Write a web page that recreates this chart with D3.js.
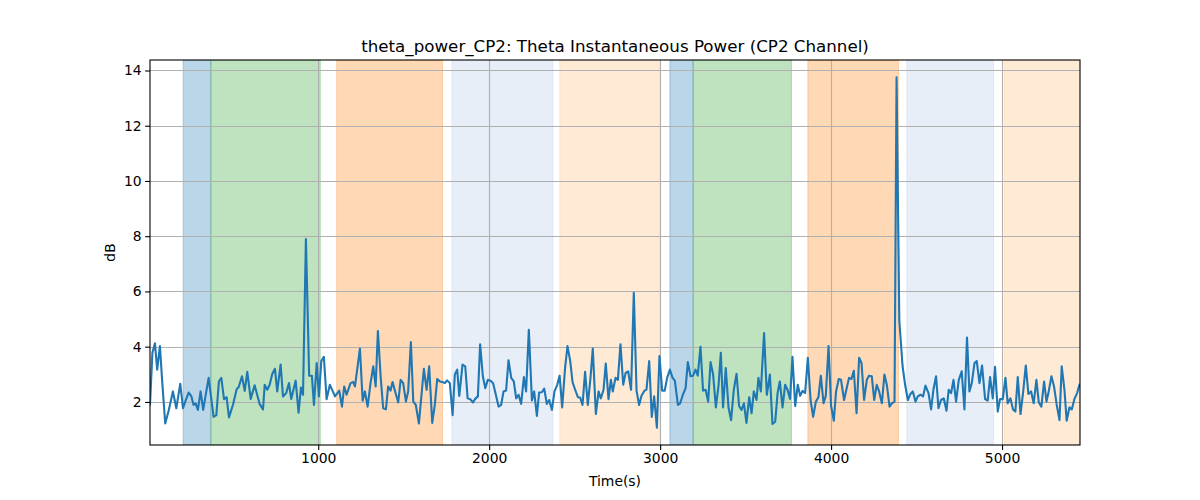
<!DOCTYPE html>
<html>
<head>
<meta charset="utf-8">
<script src="https://cdn.jsdelivr.net/npm/d3@7"></script>
<style>
  html, body { margin: 0; padding: 0; background: #fff; }
  svg { display: block; font-family: "DejaVu Sans", sans-serif; }
</style>
</head>
<body>
<svg id="chart" width="1200" height="500"></svg>
<script>
const chartTitle = "theta_power_CP2: Theta Instantaneous Power (CP2 Channel)";
const xLabel = "Time(s)";
const yLabel = "dB";
const xTicks = [1000, 2000, 3000, 4000, 5000];
const yTicks = [2, 4, 6, 8, 10, 12, 14];
const xDomain = [16, 5456];
const yDomain = [0.44, 14.38];

// shaded intervals (start, end, colour)
const spanStarts = [210, 372, 1108, 1782, 2413, 3057, 3193, 3864, 4443, 5014];
const spanEnds   = [372, 1012, 1727, 2373, 2996, 3193, 3768, 4394, 4951, 5456];
const spanColors = ["#1f77b4", "#2ca02c", "#ff7f0e", "#aec7e8", "#ffbb78",
                    "#1f77b4", "#2ca02c", "#ff7f0e", "#aec7e8", "#ffbb78"];

const times = [
16,30,45,58,74,88,105,125,150,170,193,209,222,242,257,271,283,296,312,327,359,388,404,419,433,449,464,478,501,523,535,554,570,585,605,628,657,677,687,702,716,731,747,760,780,794,813,829,842,868,885,899,911,928,
947,963,975,991,1004,1018,1033,1049,1068,1084,1098,1123,1139,1152,1166,1189,1205,1215,1244,1260,1273,1289,1306,1322,1336,1349,1365,1380,1396,1409,1423,1435,1450,1468,1482,1497,1513,1526,1542,1556,1571,1589,1618,1634,1649,1667,1682,1696,1712,1727,1741,1754,1770,1786,1799,1813,
1825,1844,1860,1874,1889,1905,1918,1934,1947,1963,1977,1992,2008,2023,2039,2055,2070,2084,2099,2113,2129,2144,2158,2172,2187,2203,2216,2232,2250,2263,2279,2292,2308,2322,2337,2351,2367,2382,2398,2412,2427,2444,2458,2474,2488,2503,2519,2532,2546,2561,2577,2593,2606,2624,2640,2653,2669,2682,2698,2712,
2723,2739,2753,2768,2784,2798,2813,2830,2846,2862,2877,2891,2909,2920,2936,2951,2965,2981,2996,3012,3027,3041,3057,3073,3086,3104,3117,3133,3149,3162,3178,3193,3207,3220,3236,3251,3266,3281,3295,3310,3326,3342,3355,3368,3384,3400,3415,3431,3447,3462,3476,3490,3505,3521,3535,3548,3564,
3575,3589,3608,3624,3642,3657,3673,3687,3700,3716,3731,3745,3760,3774,3790,3805,3819,3833,3848,3864,3880,3895,3911,3926,3940,3956,3969,3985,4000,4016,4029,4045,4058,4076,4090,4105,4119,4133,4149,4164,4178,4193,4209,4222,4238,4252,4267,4281,4297,4312,4326,4342,4355,4371,4383,4399,4418,4433,4449,
4464,4478,4494,4507,4523,4538,4552,4570,4585,4599,4614,4628,4643,4659,4675,4688,4702,4716,4731,4747,4764,4780,4795,4809,4823,4839,4852,4868,4883,4901,4916,4930,4946,4959,4975,4988,5004,5020,5033,5049,5064,5078,5092,5108,5123,5139,5154,5170,5185,5201,5215,5230,5246,5260,5273,5289,5304,5320,5336,5349,5365,5378,5394,5408,5423,5439,5453
];

const power = [
1.9,3.78,4.12,3.17,4.02,2.68,1.22,1.68,2.38,1.77,2.66,1.77,2.01,2.34,2.22,1.89,1.95,1.71,2.38,1.71,2.87,1.46,1.52,2.74,2.87,2.10,2.17,1.44,1.89,2.46,2.54,2.93,2.40,3.09,2.11,2.60,1.93,1.73,2.62,2.44,2.62,3.01,3.20,2.38,3.35,2.20,2.32,2.68,2.11,2.77,1.61,2.52,2.26,7.9,
2.95,2.95,1.89,3.41,2.20,3.48,3.63,2.10,2.62,2.40,2.20,2.41,1.83,2.56,2.26,2.68,2.72,2.56,3.93,2.04,2.38,1.83,2.68,3.29,2.56,4.57,2.93,1.77,1.73,2.56,2.41,2.72,2.38,1.98,2.80,2.68,2.01,2.38,4.17,2.01,1.89,1.22,3.20,2.44,3.29,1.24,1.89,2.83,2.74,2.72,2.68,2.78,2.68,1.52,2.99,3.17,
2.22,3.35,3.29,2.13,2.10,1.98,2.11,2.20,4.09,2.93,2.50,2.80,2.77,2.68,2.26,1.83,1.89,2.38,2.41,3.51,2.87,2.74,2.13,2.26,1.93,2.90,2.38,4.61,2.05,2.38,1.49,2.34,2.35,2.48,1.93,2.07,1.71,2.38,2.62,2.95,1.80,3.23,4.02,3.48,2.71,2.44,2.17,2.16,1.89,3.09,1.89,2.90,3.93,1.56,2.38,2.13,2.44,3.39,2.10,2.80,
2.38,2.87,2.80,4.09,2.62,3.05,3.11,2.44,5.95,2.41,1.89,2.22,2.41,2.44,3.48,1.46,2.20,1.07,3.66,2.41,2.41,2.87,3.17,2.87,2.77,1.89,1.95,2.26,2.50,3.44,2.93,2.95,3.17,2.95,4.00,2.41,2.44,2.01,3.44,2.99,1.80,2.62,3.78,1.80,3.23,1.80,1.34,2.44,3.02,1.85,1.71,1.95,1.24,2.17,1.59,2.38,2.07,
2.87,2.38,4.49,2.26,2.99,1.20,1.28,2.32,2.74,1.80,2.62,2.44,2.11,3.63,1.85,2.62,2.22,2.40,2.32,3.60,2.07,1.46,2.01,2.17,2.95,1.95,2.22,4.02,1.85,1.32,2.38,2.83,2.80,2.07,2.46,2.87,2.83,3.13,1.59,3.60,3.41,2.07,2.80,2.95,2.93,2.07,2.62,2.38,1.95,2.99,2.62,1.83,1.95,2.01,13.75,4.95,3.30,2.62,2.07,
2.29,2.38,2.01,2.20,2.26,2.20,2.59,2.32,1.73,2.46,2.93,1.77,2.07,2.13,1.68,2.44,2.32,2.80,2.01,2.80,3.11,1.73,4.33,2.38,2.68,3.41,3.48,2.68,3.32,2.10,2.05,2.90,2.13,3.27,1.65,2.10,2.10,2.87,1.95,2.13,1.73,1.65,2.90,1.56,2.34,3.32,2.29,2.38,1.95,2.80,1.98,1.83,2.74,2.01,2.38,2.93,2.56,1.89,1.34,3.29,2.44,1.32,1.80,1.73,2.10,2.32,2.62
];

const margin = { left: 150, top: 60, right: 120, bottom: 55 };
const W = 1200, H = 500;
const iw = W - margin.left - margin.right;   // 930
const ih = H - margin.top - margin.bottom;   // 385

const svg = d3.select("#chart");
const g = svg.append("g").attr("transform", `translate(${margin.left},${margin.top})`);

const x = d3.scaleLinear().domain(xDomain).range([0, iw]);
const y = d3.scaleLinear().domain(yDomain).range([ih, 0]);

g.append("defs").append("clipPath").attr("id", "clip")
  .append("rect").attr("width", iw).attr("height", ih);

// spans
const spans = spanStarts.map((s, i) => ({ s, e: spanEnds[i], c: spanColors[i] }));
g.append("g").attr("clip-path", "url(#clip)")
  .selectAll("rect").data(spans).join("rect")
  .attr("x", d => x(d.s))
  .attr("width", d => x(d.e) - x(d.s))
  .attr("y", 0).attr("height", ih)
  .attr("fill", d => d.c).attr("fill-opacity", 0.3)
  .attr("stroke", d => d.c).attr("stroke-opacity", 0.3).attr("stroke-width", 1);

// grid
const grid = g.append("g");
grid.selectAll(".gx").data(xTicks).join("line")
  .attr("x1", d => Math.round(x(d)) + 0.5).attr("x2", d => Math.round(x(d)) + 0.5)
  .attr("y1", 0).attr("y2", ih)
  .attr("stroke", "#b0b0b0").attr("stroke-width", 1.1);
grid.selectAll(".gy").data(yTicks).join("line")
  .attr("y1", d => Math.round(y(d)) + 0.5).attr("y2", d => Math.round(y(d)) + 0.5)
  .attr("x1", 0).attr("x2", iw)
  .attr("stroke", "#b0b0b0").attr("stroke-width", 1.1);

// line
const pts = times.map((t, i) => [t, power[i]]);
g.append("path").datum(pts)
  .attr("clip-path", "url(#clip)")
  .attr("fill", "none").attr("stroke", "#1f77b4").attr("stroke-width", 2.1)
  .attr("stroke-linejoin", "round").attr("stroke-linecap", "square")
  .attr("d", d3.line().x(d => x(d[0])).y(d => y(d[1])));

// axes
const xAxis = d3.axisBottom(x).tickValues(xTicks).tickSize(4.9).tickPadding(3.5).tickFormat(d3.format("d"));
const yAxis = d3.axisLeft(y).tickValues(yTicks).tickSize(4.9).tickPadding(3.5).tickFormat(d3.format("d"));
const gx = g.append("g").attr("transform", `translate(0,${ih})`).call(xAxis);
const gy = g.append("g").call(yAxis);
[gx, gy].forEach(a => {
  a.select(".domain").remove();
  a.selectAll("line").attr("stroke", "#000").attr("stroke-width", 1.1);
  a.selectAll("text").attr("fill", "#000").style("font-size", "13.9px")
    .style("font-family", "DejaVu Sans, sans-serif");
});

// frame
g.append("rect").attr("x", 0).attr("y", 0).attr("width", iw).attr("height", ih)
  .attr("fill", "none").attr("stroke", "#000").attr("stroke-width", 1.1);

// labels
svg.append("text").attr("x", margin.left + iw / 2).attr("y", 52)
  .attr("text-anchor", "middle").style("font-size", "16.7px").attr("fill", "#000")
  .text(chartTitle);
svg.append("text").attr("x", margin.left + iw / 2).attr("y", 486)
  .attr("text-anchor", "middle").style("font-size", "13.9px").attr("fill", "#000")
  .text(xLabel);
svg.append("text").attr("transform", `translate(115,${margin.top + ih / 2}) rotate(-90)`)
  .attr("text-anchor", "middle").style("font-size", "13.9px").attr("fill", "#000")
  .text(yLabel);
</script>
</body>
</html>
